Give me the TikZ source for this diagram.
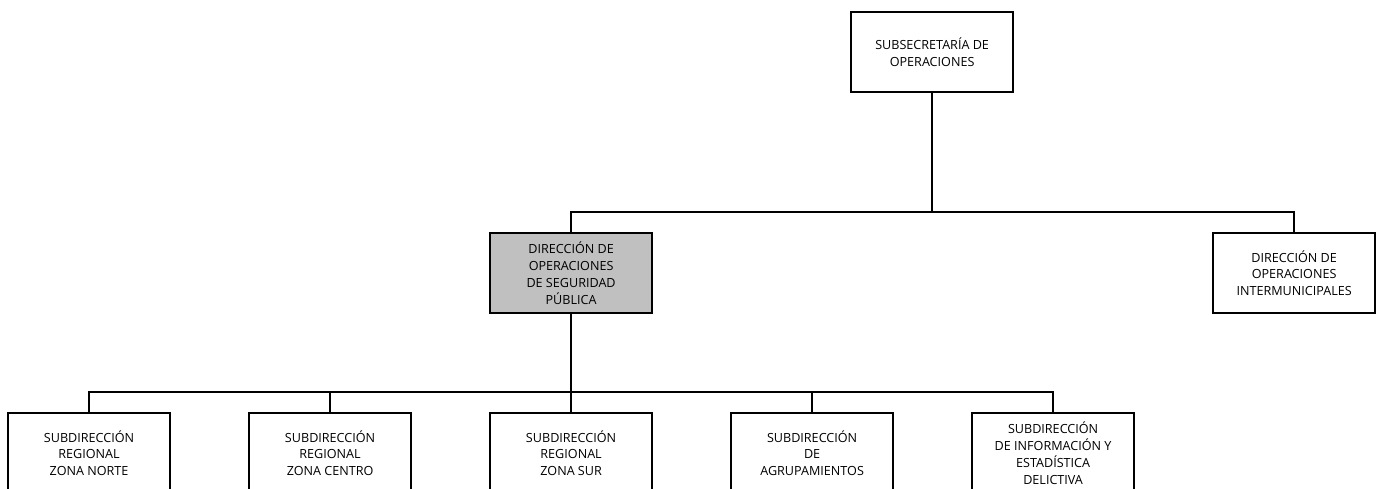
\documentclass[tikz,border=0pt]{standalone}
\usepackage{fontspec}
\setmainfont{Open Sans}
\begin{document}
\begin{tikzpicture}[x=1pt,y=-1pt,
  box/.style={draw=black,line width=2.2pt,fill=white,minimum width=162pt,minimum height=80pt,
    align=center,inner sep=2pt,font=\fontsize{12.6}{16.8}\selectfont,anchor=north west},
  conn/.style={line width=2.2pt}]
\useasboundingbox (0,0) rectangle (1380,488);
\clip (0,0) rectangle (1380,488);
\node[box] (sub) at (850,11) {SUBSECRETARÍA DE\\OPERACIONES};
\node[box,fill={rgb,255:red,192;green,192;blue,192}] (dos) at (489,232) {DIRECCIÓN DE\\OPERACIONES\\DE SEGURIDAD\\PÚBLICA};
\node[box] (doi) at (1212,232) {DIRECCIÓN DE\\OPERACIONES\\INTERMUNICIPALES};
\node[box] (b1) at (7,412) {SUBDIRECCIÓN\\REGIONAL\\ZONA NORTE};
\node[box] (b2) at (248,412) {SUBDIRECCIÓN\\REGIONAL\\ZONA CENTRO};
\node[box] (b3) at (489,412) {SUBDIRECCIÓN\\REGIONAL\\ZONA SUR};
\node[box] (b4) at (730,412) {SUBDIRECCIÓN\\DE\\AGRUPAMIENTOS};
\node[box] (b5) at (971,412) {SUBDIRECCIÓN\\DE INFORMACIÓN Y\\ESTADÍSTICA\\DELICTIVA};
\coordinate (bar1) at (0,212);
\coordinate (bar2) at (0,392);
\draw[conn] (sub.south) -- (sub.south |- bar1);
\draw[conn] (dos.north) -- (dos.north |- bar1) -- (doi.north |- bar1) -- (doi.north);
\draw[conn] (dos.south) -- (dos.south |- bar2);
\draw[conn] (b1.north) -- (b1.north |- bar2) -- (b5.north |- bar2) -- (b5.north);
\draw[conn] (b2.north) -- (b2.north |- bar2);
\draw[conn] (b3.north) -- (b3.north |- bar2);
\draw[conn] (b4.north) -- (b4.north |- bar2);
\end{tikzpicture}
\end{document}
